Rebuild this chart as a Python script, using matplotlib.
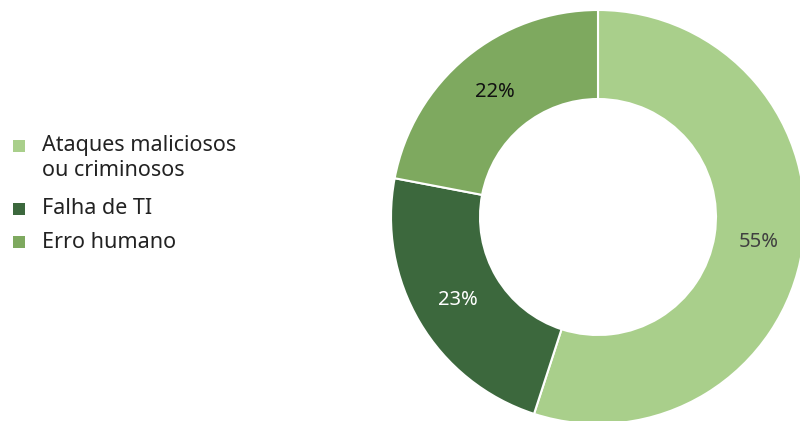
import matplotlib
matplotlib.use("Agg")
import matplotlib.pyplot as plt
from matplotlib.patches import Rectangle

categories = ["Ataques maliciosos\nou criminosos", "Falha de TI", "Erro humano"]
values = [55, 23, 22]
colors = ["#a9cf8b", "#3c683d", "#7ea95f"]
label_colors = ["#404040", "#ffffff", "#111111"]

plt.rcParams['font.family'] = ['Noto Sans', 'DejaVu Sans']

fig = plt.figure(figsize=(8, 4.21), dpi=100)
W, H = 800, 421
cx, cy, r = 598, 421 - 217, 207
ax = fig.add_axes([(cx - r) / W, (cy - r) / H, 2 * r / W, 2 * r / H])
wedges, texts, autotexts = ax.pie(
    values, colors=colors, startangle=90, counterclock=False,
    radius=1.0, autopct=lambda p: f"{p:.0f}%", pctdistance=0.785,
    wedgeprops=dict(width=0.43, edgecolor="white", linewidth=1.5),
    textprops=dict(fontsize=14.5))
for t, c in zip(autotexts, label_colors):
    t.set_color(c)
ax.set_xlim(-1, 1)
ax.set_ylim(-1, 1)
ax.set_aspect("equal")
ax.axis("off")

# manual legend (first line of each label aligned with its swatch)
legend_y_px = [146, 209, 242]
sw = 12
for lab, col, ypx in zip(categories, colors, legend_y_px):
    fig.patches.append(Rectangle(((13) / W, (H - ypx - sw / 2) / H), sw / W, sw / H,
                                 transform=fig.transFigure, facecolor=col,
                                 edgecolor="none"))
    fig.text(42 / W, (H - ypx) / H, lab.split("\n")[0], fontsize=15.5,
             color="#222222", va="center", ha="left")
    for k, extra in enumerate(lab.split("\n")[1:], start=1):
        fig.text(42 / W, (H - ypx - 24 * k) / H, extra, fontsize=15.5,
                 color="#222222", va="center", ha="left")

fig.savefig("out.png", dpi=100)
